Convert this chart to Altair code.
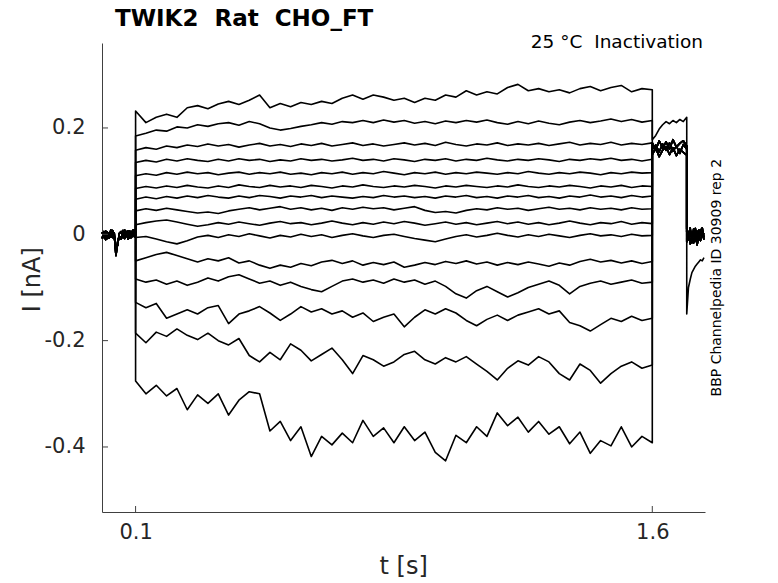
import altair as alt
import pandas as pd

# ---------------- data ----------------
X_TICKS = [0.1, 1.6]
Y_TICKS = [-0.4, -0.2, 0.0, 0.2]

# holding period before the step
T_PRE = [0.003, 0.008, 0.013, 0.018, 0.023, 0.028, 0.033, 0.038, 0.043, 0.048,
         0.053, 0.058, 0.063, 0.068, 0.073, 0.078, 0.083, 0.088, 0.093, 0.097, 0.1]
PRE_A = [0.004, -0.006, 0.006, -0.008, 0.003, -0.005, 0.007, -0.004, -0.030, -0.020,
         0.002, 0.005, -0.006, 0.008, -0.004, 0.006, -0.007, 0.005, -0.003, 0.007, -0.002]
PRE_B = [-0.008, 0.005, -0.010, 0.004, -0.007, 0.008, -0.006, 0.003, -0.040, -0.014,
         -0.004, -0.009, 0.007, -0.008, 0.005, -0.009, 0.006, -0.006, 0.008, -0.005, 0.004]

# step period, sampled every 0.03 s from 0.1 to 1.6
T_STEP = [round(0.1 + 0.03 * k, 3) for k in range(51)]
STEP = [
    [0.232, 0.210, 0.220, 0.226, 0.220, 0.238, 0.242, 0.236, 0.245, 0.250, 0.244, 0.252, 0.262, 0.238, 0.246, 0.240, 0.248, 0.244, 0.250, 0.246, 0.256, 0.262, 0.254, 0.262, 0.258, 0.252, 0.256, 0.248, 0.256, 0.252, 0.262, 0.258, 0.270, 0.262, 0.268, 0.264, 0.276, 0.282, 0.270, 0.274, 0.268, 0.272, 0.266, 0.274, 0.278, 0.270, 0.276, 0.280, 0.268, 0.274, 0.272],
    [0.185, 0.190, 0.196, 0.194, 0.202, 0.200, 0.206, 0.203, 0.208, 0.210, 0.205, 0.212, 0.208, 0.200, 0.196, 0.199, 0.203, 0.206, 0.210, 0.207, 0.212, 0.210, 0.214, 0.210, 0.215, 0.211, 0.214, 0.209, 0.212, 0.208, 0.213, 0.210, 0.214, 0.211, 0.215, 0.210, 0.207, 0.212, 0.208, 0.213, 0.209, 0.206, 0.211, 0.214, 0.210, 0.213, 0.217, 0.212, 0.216, 0.211, 0.214],
    [0.158, 0.163, 0.160, 0.166, 0.163, 0.168, 0.165, 0.170, 0.166, 0.169, 0.164, 0.168, 0.171, 0.166, 0.169, 0.165, 0.170, 0.167, 0.171, 0.166, 0.169, 0.172, 0.167, 0.170, 0.166, 0.169, 0.172, 0.168, 0.171, 0.167, 0.173, 0.169, 0.166, 0.170, 0.168, 0.172, 0.167, 0.170, 0.168, 0.171, 0.167, 0.170, 0.173, 0.168, 0.171, 0.169, 0.173, 0.168, 0.171, 0.169, 0.172],
    [0.135, 0.139, 0.136, 0.141, 0.138, 0.142, 0.139, 0.137, 0.141, 0.138, 0.142, 0.139, 0.141, 0.137, 0.140, 0.138, 0.142, 0.139, 0.141, 0.138, 0.140, 0.143, 0.139, 0.141, 0.138, 0.142, 0.140, 0.137, 0.141, 0.139, 0.142, 0.138, 0.141, 0.139, 0.143, 0.140, 0.138, 0.141, 0.139, 0.142, 0.140, 0.137, 0.141, 0.139, 0.142, 0.140, 0.143, 0.139, 0.141, 0.138, 0.141],
    [0.110, 0.114, 0.111, 0.116, 0.113, 0.117, 0.114, 0.116, 0.112, 0.115, 0.117, 0.113, 0.116, 0.114, 0.117, 0.113, 0.115, 0.112, 0.116, 0.114, 0.117, 0.113, 0.116, 0.114, 0.118, 0.115, 0.112, 0.116, 0.114, 0.117, 0.113, 0.116, 0.114, 0.117, 0.115, 0.113, 0.116, 0.114, 0.118, 0.115, 0.113, 0.116, 0.114, 0.117, 0.115, 0.112, 0.116, 0.114, 0.117, 0.115, 0.116],
    [0.086, 0.090, 0.087, 0.091, 0.088, 0.092, 0.089, 0.087, 0.091, 0.088, 0.093, 0.090, 0.088, 0.092, 0.089, 0.091, 0.088, 0.092, 0.090, 0.087, 0.091, 0.089, 0.093, 0.090, 0.088, 0.091, 0.089, 0.092, 0.090, 0.087, 0.091, 0.089, 0.092, 0.090, 0.088, 0.091, 0.089, 0.093, 0.090, 0.088, 0.091, 0.089, 0.092, 0.090, 0.087, 0.091, 0.089, 0.092, 0.088, 0.091, 0.090],
    [0.066, 0.070, 0.067, 0.071, 0.068, 0.072, 0.069, 0.073, 0.070, 0.068, 0.072, 0.069, 0.073, 0.071, 0.068, 0.072, 0.070, 0.073, 0.069, 0.072, 0.070, 0.068, 0.071, 0.069, 0.073, 0.070, 0.072, 0.069, 0.071, 0.068, 0.072, 0.070, 0.073, 0.069, 0.071, 0.068, 0.072, 0.070, 0.073, 0.069, 0.071, 0.068, 0.072, 0.070, 0.074, 0.070, 0.072, 0.069, 0.073, 0.070, 0.072],
    [0.044, 0.048, 0.045, 0.049, 0.046, 0.043, 0.040, 0.042, 0.039, 0.044, 0.047, 0.050, 0.046, 0.049, 0.052, 0.047, 0.050, 0.046, 0.049, 0.045, 0.050, 0.047, 0.051, 0.048, 0.050, 0.046, 0.049, 0.052, 0.045, 0.041, 0.043, 0.040, 0.045, 0.048, 0.046, 0.050, 0.047, 0.049, 0.045, 0.048, 0.051, 0.047, 0.049, 0.046, 0.050, 0.047, 0.049, 0.046, 0.050, 0.047, 0.048],
    [0.018, 0.022, 0.025, 0.027, 0.023, 0.019, 0.015, 0.018, 0.022, 0.019, 0.023, 0.020, 0.017, 0.021, 0.024, 0.020, 0.022, 0.018, 0.021, 0.025, 0.021, 0.018, 0.022, 0.019, 0.023, 0.020, 0.024, 0.021, 0.017, 0.020, 0.023, 0.019, 0.022, 0.018, 0.021, 0.024, 0.020, 0.023, 0.019, 0.022, 0.018, 0.021, 0.025, 0.021, 0.018, 0.022, 0.020, 0.024, 0.019, 0.022, 0.020],
    [-0.006, -0.004, -0.009, -0.014, -0.018, -0.012, -0.005, -0.002, -0.006, -0.001, -0.004, 0.001, -0.003, -0.007, -0.002, -0.005, 0.000, -0.004, -0.001, -0.006, -0.002, 0.001, -0.003, -0.006, -0.002, 0.000, -0.004, -0.008, -0.011, -0.014, -0.009, -0.004, -0.001, -0.005, -0.002, 0.002, -0.002, -0.005, -0.001, -0.004, 0.000, -0.003, -0.006, -0.002, 0.001, -0.003, -0.001, -0.004, 0.000, -0.003, -0.002],
    [-0.050, -0.044, -0.038, -0.034, -0.040, -0.046, -0.052, -0.046, -0.050, -0.044, -0.054, -0.050, -0.058, -0.064, -0.058, -0.062, -0.055, -0.059, -0.052, -0.049, -0.055, -0.050, -0.058, -0.053, -0.057, -0.052, -0.062, -0.058, -0.053, -0.057, -0.051, -0.055, -0.050, -0.056, -0.052, -0.058, -0.053, -0.057, -0.052, -0.056, -0.060, -0.054, -0.058, -0.051, -0.047, -0.052, -0.049, -0.054, -0.050, -0.055, -0.051],
    [-0.084, -0.090, -0.086, -0.094, -0.088, -0.096, -0.090, -0.082, -0.088, -0.080, -0.076, -0.084, -0.092, -0.088, -0.096, -0.090, -0.098, -0.104, -0.108, -0.098, -0.088, -0.084, -0.090, -0.086, -0.092, -0.084, -0.090, -0.086, -0.094, -0.088, -0.098, -0.112, -0.120, -0.106, -0.098, -0.108, -0.118, -0.110, -0.100, -0.094, -0.088, -0.096, -0.112, -0.098, -0.092, -0.088, -0.094, -0.090, -0.086, -0.092, -0.090],
    [-0.128, -0.138, -0.130, -0.158, -0.150, -0.142, -0.150, -0.138, -0.134, -0.168, -0.150, -0.144, -0.136, -0.148, -0.162, -0.150, -0.136, -0.146, -0.140, -0.150, -0.144, -0.156, -0.148, -0.164, -0.156, -0.150, -0.174, -0.156, -0.142, -0.150, -0.140, -0.148, -0.162, -0.172, -0.160, -0.152, -0.162, -0.152, -0.146, -0.140, -0.150, -0.144, -0.166, -0.172, -0.182, -0.170, -0.158, -0.164, -0.154, -0.162, -0.158],
    [-0.186, -0.204, -0.184, -0.192, -0.178, -0.190, -0.198, -0.186, -0.200, -0.208, -0.196, -0.228, -0.240, -0.222, -0.236, -0.206, -0.218, -0.238, -0.226, -0.214, -0.236, -0.262, -0.228, -0.236, -0.248, -0.240, -0.226, -0.220, -0.236, -0.244, -0.232, -0.240, -0.230, -0.244, -0.258, -0.274, -0.252, -0.238, -0.246, -0.230, -0.240, -0.262, -0.274, -0.244, -0.256, -0.280, -0.262, -0.248, -0.240, -0.252, -0.246],
    [-0.276, -0.300, -0.284, -0.304, -0.290, -0.330, -0.302, -0.318, -0.300, -0.340, -0.312, -0.296, -0.300, -0.370, -0.352, -0.388, -0.362, -0.418, -0.380, -0.396, -0.374, -0.392, -0.350, -0.380, -0.364, -0.392, -0.362, -0.388, -0.372, -0.410, -0.426, -0.378, -0.392, -0.362, -0.380, -0.336, -0.360, -0.344, -0.372, -0.352, -0.376, -0.362, -0.394, -0.372, -0.412, -0.388, -0.398, -0.362, -0.400, -0.380, -0.392],
]

# tail after the step (test pulse), then return to holding
T_TAIL1 = [1.6, 1.61, 1.62, 1.63, 1.64, 1.65, 1.66, 1.67, 1.68, 1.69, 1.70]
TAIL1_TOP = [0.178, 0.186, 0.198, 0.206, 0.212, 0.208, 0.214, 0.210, 0.216, 0.212, 0.220]
TAIL1_A = [0.160, 0.168, 0.155, 0.170, 0.158, 0.172, 0.156, 0.166, 0.152, 0.169, 0.160]
TAIL1_B = [0.150, 0.162, 0.146, 0.158, 0.165, 0.150, 0.163, 0.148, 0.160, 0.154, 0.149]
TAIL1_C = [0.172, 0.158, 0.176, 0.162, 0.174, 0.160, 0.178, 0.164, 0.171, 0.176, 0.166]

T_TAIL2 = [1.70, 1.705, 1.71, 1.715, 1.72, 1.725, 1.73, 1.735, 1.74, 1.745, 1.75]
TAIL2_TOP = [-0.150, -0.100, -0.085, -0.072, -0.066, -0.060, -0.056, -0.052, -0.048, -0.050, -0.044]
TAIL2_A = [0.004, -0.010, 0.008, -0.006, 0.010, -0.012, 0.006, -0.008, 0.009, -0.004, 0.002]
TAIL2_B = [-0.014, 0.002, -0.018, -0.004, -0.016, 0.000, -0.020, -0.006, -0.012, 0.003, -0.010]
TAIL2_C = [0.010, -0.002, 0.012, -0.016, 0.004, 0.011, -0.010, 0.008, -0.002, 0.012, -0.006]

TITLE = "TWIK2 \u00a0Rat \u00a0CHO_FT"
SUBTITLE = "25 °C \u00a0Inactivation"
SIDE = "BBP Channelpedia ID 30909 rep 2"

# ---------------- table ----------------
rows = []
for j, step in enumerate(STEP):
    pre = PRE_A if j % 2 == 0 else PRE_B
    if j == 0:
        t1, t2 = TAIL1_TOP, TAIL2_TOP
    else:
        t1 = [TAIL1_A, TAIL1_B, TAIL1_C][j % 3]
        t2 = [TAIL2_A, TAIL2_B, TAIL2_C][j % 3]
    seq = (list(zip(T_PRE, pre)) + list(zip(T_STEP, step))
           + list(zip(T_TAIL1, t1)) + list(zip(T_TAIL2, t2)))
    for o, (t, v) in enumerate(seq):
        rows.append({"trace": j, "t": t, "i": v, "o": o})
df = pd.DataFrame(rows)

# ---------------- chart ----------------
W, H = 603, 469
FONT = "DejaVu Sans"
AX = "#404040"
LAB = "#262626"
xs = alt.Scale(domain=[0.0025, 1.753], nice=False, zero=False)
ys = alt.Scale(domain=[-0.5223, 0.3598], nice=False, zero=False)

XAXIS = alt.Axis(
    values=X_TICKS, title=None, ticks=False, grid=False, labelPadding=9,
    labelFontSize=21, labelFont=FONT, labelColor=LAB, domainColor=AX, domainWidth=1,
    labelExpr="format(datum.value, '.1f')")
YAXIS = alt.Axis(
    values=Y_TICKS, title=None, ticks=False, grid=False, labelPadding=17,
    labelFontSize=21, labelFont=FONT, labelColor=LAB, domainColor=AX, domainWidth=1,
    labelExpr="datum.value == 0 ? '0' : (datum.value < 0 ? '-' + format(-datum.value, '.1f') : format(datum.value, '.1f'))")

lines = alt.Chart(df).mark_line(color="black", strokeWidth=1.6, strokeJoin="round").encode(
    x=alt.X("t:Q", scale=xs, axis=XAXIS),
    y=alt.Y("i:Q", scale=ys, axis=YAXIS),
    detail="trace:N",
    order="o:Q",
)

yticks = alt.Chart(pd.DataFrame({"v": Y_TICKS})).mark_rule(color=AX, strokeWidth=1).encode(
    y=alt.Y("v:Q", scale=ys, axis=YAXIS), x=alt.value(0), x2=alt.value(6))
xticks = alt.Chart(pd.DataFrame({"v": X_TICKS})).mark_rule(color=AX, strokeWidth=1).encode(
    x=alt.X("v:Q", scale=xs, axis=XAXIS), y=alt.value(H), y2=alt.value(H - 6))


def label(txt, x, y, size, **kw):
    return alt.Chart(pd.DataFrame({"s": [txt]})).mark_text(
        font=FONT, fontSize=size, color=kw.pop("color", LAB), **kw).encode(
        text="s:N", x=alt.value(x), y=alt.value(y))


title = label(TITLE, 13, -17, 23, align="left", baseline="alphabetic",
              fontWeight="bold", color="black")
sub = label(SUBTITLE, 601, 4.5, 18.5, align="right", baseline="alphabetic", color="black")
side = label(SIDE, 614.5, 234.7, 14, align="center", baseline="middle", angle=270, color="black")
ylab = label("I [nA]", -68.7, 236.7, 24, align="center", baseline="middle", angle=270)
xlab = label("t [s]", 301.7, 523.7, 24, align="center", baseline="middle")

chart = alt.layer(lines, yticks, xticks, title, sub, side, ylab, xlab).properties(
    width=W, height=H,
    autosize=alt.AutoSizeParams(type="none"),
    padding={"left": 94, "top": 35, "right": 60, "bottom": 72},
).configure_view(strokeWidth=0)

chart.save("out.html", embed_options={"renderer": "svg", "actions": False})
